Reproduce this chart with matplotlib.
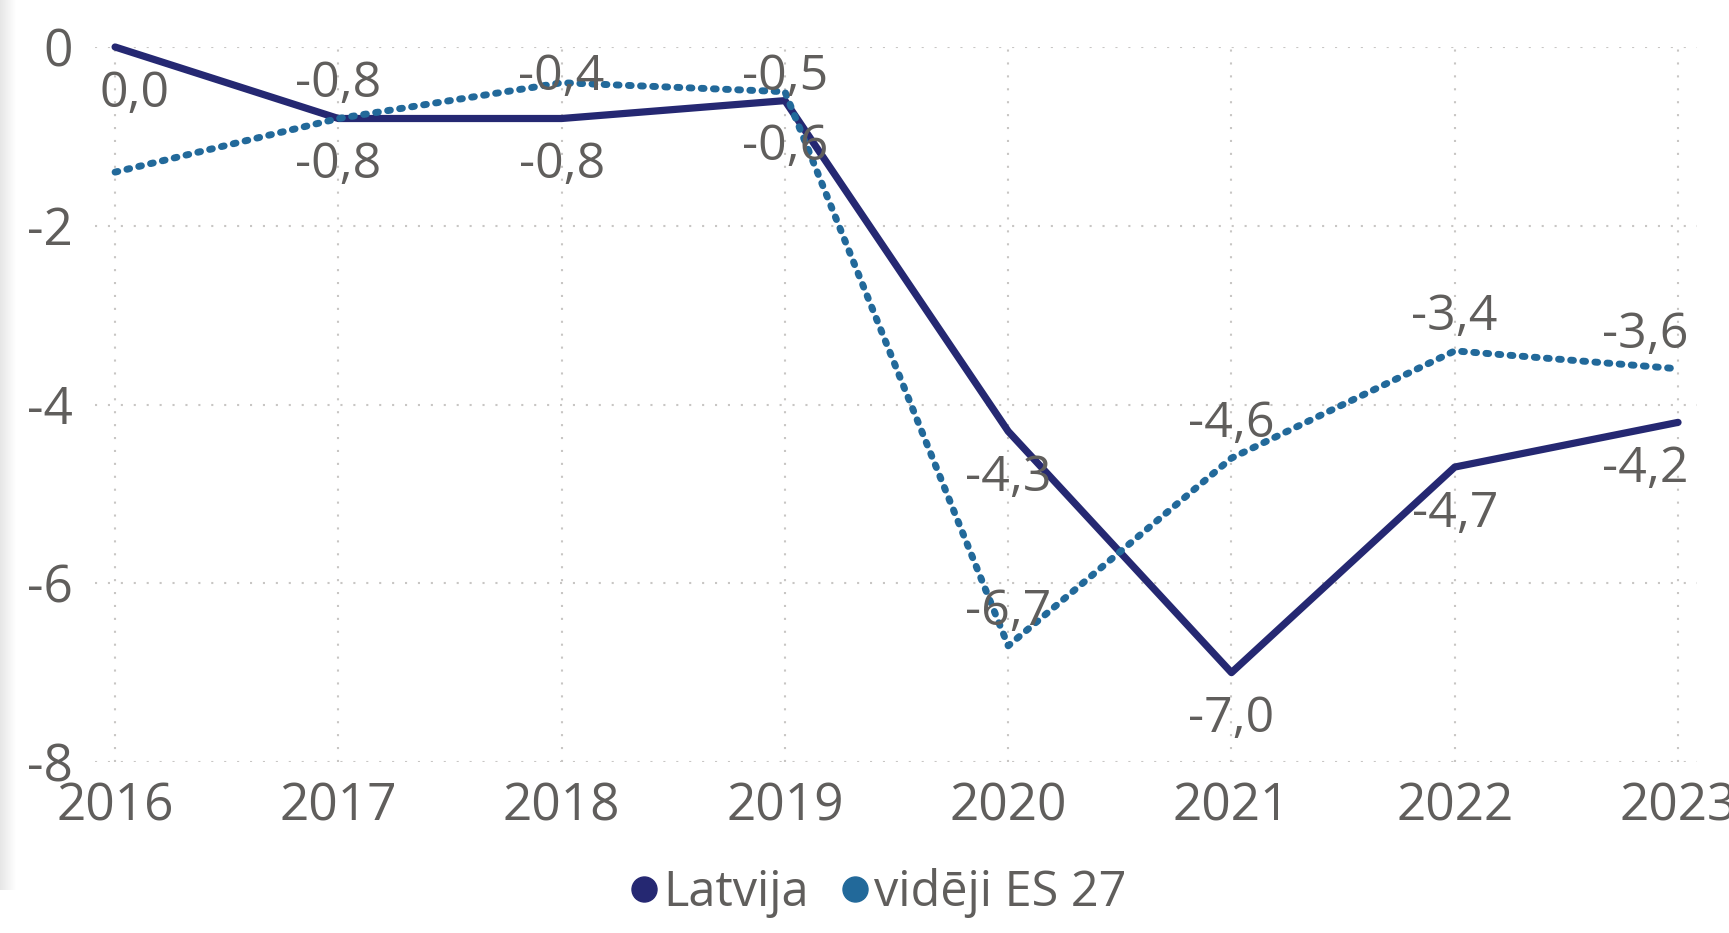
import numpy as np
import matplotlib
matplotlib.use("Agg")
import matplotlib.pyplot as plt
from matplotlib.lines import Line2D
from matplotlib.colors import LinearSegmentedColormap

years = [2016, 2017, 2018, 2019, 2020, 2021, 2022, 2023]
latvija = [0.0, -0.8, -0.8, -0.6, -4.3, -7.0, -4.7, -4.2]
es27 = [-1.4, -0.8, -0.4, -0.5, -6.7, -4.6, -3.4, -3.6]
es27_labels_shown = [False, True, True, True, True, True, True, True]
yticks = [0, -2, -4, -6, -8]
series_names = ["Latvija", "vidēji ES 27"]

C_LV = "#252872"
C_ES = "#22699A"
C_TXT = "#605E5C"
C_GRID = "#C8C6C4"

plt.rcParams['font.family'] = ['Open Sans', 'DejaVu Sans']

W, H = 1729, 933
fig = plt.figure(figsize=(W / 100, H / 100), dpi=100)
ax = fig.add_axes([95 / W, 1 - 762 / H, (1697 - 95) / W, (762 - 47) / H])

ax.set_xlim(2016 - 0.09, 2023 + 0.085)
ax.set_ylim(-8, 0)

ax.plot(years, latvija, color=C_LV, lw=5.2, solid_capstyle='round',
        solid_joinstyle='round', clip_on=False, zorder=3)
ax.plot(years, es27, color=C_ES, lw=5.0, linestyle=(0, (0.4, 1.35)),
        dash_capstyle='round', clip_on=False, zorder=4)

FS = 36
UNIT_PX = (762 - 47) / 8.0  # pixels per data unit


def fmt(v):
    return f"{v:.1f}".replace(".", ",")


def xoff(i):
    if i == 0:
        return 19
    if i == len(years) - 1:
        return -33
    return 0


for i, (x, v) in enumerate(zip(years, latvija)):
    yl = v - 47 / UNIT_PX
    ax.annotate(fmt(v), (x, yl), xytext=(xoff(i), 0), textcoords='offset pixels',
                ha='center', va='center', fontsize=FS, color=C_TXT, zorder=5,
                annotation_clip=False)
for i, (x, v) in enumerate(zip(years, es27)):
    if not es27_labels_shown[i]:
        continue
    yl = min(v + 34 / UNIT_PX, -30 / UNIT_PX)  # keep label inside plot area
    ax.annotate(fmt(v), (x, yl), xytext=(xoff(i), 0), textcoords='offset pixels',
                ha='center', va='center', fontsize=FS, color=C_TXT, zorder=5,
                annotation_clip=False)

ax.set_xticks(years)
ax.set_xticklabels([str(y) for y in years])
ax.set_yticks(yticks)
ax.set_yticklabels([str(t) for t in yticks])
ax.tick_params(axis='both', length=0, labelsize=37, labelcolor=C_TXT)
ax.tick_params(axis='y', pad=16)
ax.tick_params(axis='x', pad=14)
ax.grid(True, color=C_GRID, lw=1.5, linestyle=(0, (1.0, 5.2)))
ax.set_axisbelow(True)
for s in ax.spines.values():
    s.set_visible(False)

handles = [Line2D([], [], color=C_LV, marker='o', linestyle='none', markersize=18),
           Line2D([], [], color=C_ES, marker='o', linestyle='none', markersize=18)]
leg = fig.legend(handles, series_names, loc='center', bbox_to_anchor=(0.505, 1 - 893 / H),
                 ncol=2, frameon=False, fontsize=35, handletextpad=-0.1,
                 columnspacing=0.45, handlelength=1.0, labelcolor=C_TXT)

# subtle shadow at left edge
sax = fig.add_axes([0, 1 - 890 / H, 16 / W, 890 / H])
grad = np.linspace(0, 1, 64)[None, :]
sax.imshow(grad, aspect='auto', cmap=LinearSegmentedColormap.from_list(
    'sh', ['#E6E6E6', '#FFFFFF']), extent=[0, 1, 0, 1])
sax.set_axis_off()

fig.savefig("out.png", dpi=100)
